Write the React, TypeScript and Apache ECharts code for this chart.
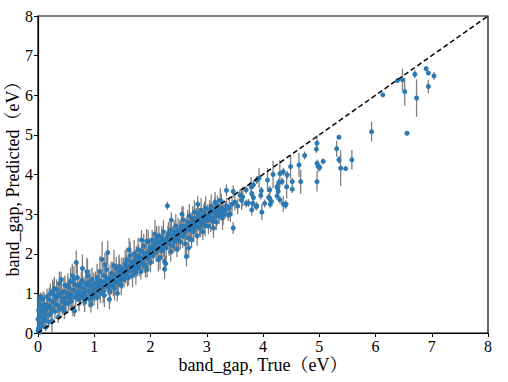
import React, { useEffect, useRef } from "react";
import * as echarts from "echarts";

const xTicks = [0, 1, 2, 3, 4, 5, 6, 7, 8];
const yTicks = [0, 1, 2, 3, 4, 5, 6, 7, 8];
const xName = "band_gap, True（eV）";
const yName = "band_gap, Predicted（eV）";
const diagonal = [[0, 0], [8, 8]];

// true band gap (eV)
const bandGapTrue = [
  0.00, 0.01, 0.02, 0.00, 0.03, 0.01, 0.04, 0.02, 0.05, 0.06, 0.08, 0.07, 0.09, 0.10, 0.05, 0.03, 0.12, 0.11, 0.14, 0.15,
  0.18, 0.20, 0.22, 0.24, 0.25, 0.27, 0.28, 0.30, 0.32, 0.33, 0.35, 0.36, 0.38, 0.40, 0.41, 0.43, 0.44, 0.46, 0.47, 0.48,
  0.50, 0.21, 0.29, 0.37, 0.45, 0.16, 0.19,
  0.52, 0.54, 0.55, 0.57, 0.58, 0.60, 0.62, 0.63, 0.65, 0.66, 0.68, 0.69, 0.70, 0.72, 0.73, 0.75, 0.76, 0.78, 0.79, 0.80,
  0.82, 0.83, 0.85, 0.86, 0.88, 0.90, 0.91, 0.93, 0.95, 0.96, 0.98, 1.00, 0.61, 0.71, 0.87, 0.94,
  1.02, 1.03, 1.05, 1.06, 1.08, 1.10, 1.11, 1.13, 1.14, 1.15, 1.17, 1.18, 1.20, 1.22, 1.24, 1.25, 1.26, 1.28, 1.30, 1.31,
  1.33, 1.35, 1.36, 1.38, 1.40, 1.41, 1.43, 1.45, 1.46, 1.48, 1.50, 1.19, 1.27, 1.39, 1.09,
  1.52, 1.53, 1.55, 1.56, 1.58, 1.60, 1.61, 1.63, 1.64, 1.66, 1.68, 1.69, 1.71, 1.72, 1.74, 1.75, 1.77, 1.78, 1.80, 1.82,
  1.83, 1.85, 1.86, 1.88, 1.90, 1.91, 1.93, 1.95, 1.96, 1.98, 2.00, 1.62, 1.84, 1.94,
  2.02, 2.03, 2.05, 2.07, 2.08, 2.10, 2.12, 2.13, 2.15, 2.17, 2.18, 2.20, 2.22, 2.23, 2.25, 2.26, 2.28, 2.30, 2.31, 2.33,
  2.35, 2.36, 2.38, 2.40, 2.42, 2.43, 2.45, 2.47, 2.48, 2.50, 2.14, 2.27, 2.37, 2.25,
  2.52, 2.53, 2.55, 2.57, 2.58, 2.60, 2.62, 2.63, 2.64, 2.66, 2.67, 2.69, 2.70, 2.72, 2.73, 2.75, 2.77, 2.78, 2.80, 2.82,
  2.83, 2.85, 2.87, 2.88, 2.90, 2.92, 2.93, 2.95, 2.97, 2.98, 3.00, 2.56, 2.68, 2.84,
  3.02, 3.03, 3.05, 3.07, 3.08, 3.10, 3.12, 3.13, 3.15, 3.17, 3.18, 3.20, 3.22, 3.24, 3.25, 3.26, 3.28, 3.30, 3.23, 3.35,
  3.35, 3.38, 3.40, 3.42, 3.47, 3.47, 3.45, 3.50, 3.55, 3.62,
  3.59, 3.64, 3.70, 3.70, 3.74, 3.79, 3.80, 3.80, 3.82, 3.83, 3.83, 3.88, 3.89, 3.89, 3.93, 3.96, 3.97, 3.98, 4.03, 4.08,
  4.10, 4.13, 4.12, 4.12, 4.15, 4.18, 4.25, 4.25, 4.26, 4.27, 4.28, 4.30, 4.30, 4.34, 4.36, 4.36, 4.40, 4.41, 4.42, 4.43,
  4.49, 4.52, 4.52, 4.64, 4.67, 4.74, 4.95, 4.96, 4.96, 4.98, 4.96, 5.01, 5.07, 5.31, 5.35, 5.35, 5.38, 5.47, 5.58, 5.93,
  6.13, 6.39, 6.48, 6.52, 6.56, 6.70, 6.73, 6.90, 6.94, 6.94, 7.04,
  0.04, 0.09, 0.13, 0.17, 0.23, 0.26, 0.31, 0.34, 0.39, 0.42, 0.49, 0.53, 0.56, 0.59, 0.64, 0.67, 0.74, 0.77, 0.81, 0.84,
  0.89, 0.92, 0.97, 0.99,
  1.04, 1.07, 1.12, 1.16, 1.21, 1.23, 1.29, 1.32, 1.34, 1.37, 1.42, 1.44, 1.47, 1.49, 1.54, 1.57, 1.59, 1.65, 1.67, 1.70,
  1.73, 1.76, 1.79, 1.81, 1.87, 1.89, 1.92, 1.97, 1.99,
  2.04, 2.09, 2.11, 2.16, 2.19, 2.21, 2.24, 2.29, 2.32, 2.34, 2.39, 2.41, 2.44, 2.46, 2.49, 2.54, 2.59, 2.61, 2.65, 2.71,
  2.74, 2.76, 2.79, 2.81, 2.86, 2.89, 2.91, 2.94, 2.96, 2.99,
  3.04, 3.09, 3.11, 3.14, 3.16, 3.19, 3.21, 3.27, 3.29, 3.33,
];

// predicted band gap (eV)
const bandGapPred = [
  0.05, 0.12, 0.25, 0.35, 0.45, 0.58, 0.70, 0.82, 0.92, 0.20, 0.38, 0.55, 0.65, 0.30, 0.15, 0.02, 0.48, 0.72, 0.15, 0.60,
  0.45, 0.85, 1.00, 0.62, 0.30, 0.78, 0.95, 0.55, 0.88, 1.10, 0.70, 0.40, 1.25, 0.92, 1.35, 0.80, 0.65, 1.05, 0.55, 1.20,
  0.90, 0.68, 1.12, 0.98, 0.85, 0.92, 0.28,
  1.00, 0.75, 1.15, 0.88, 1.30, 0.95, 0.62, 1.08, 0.56, 1.22, 1.78, 0.98, 1.40, 1.05, 0.85, 1.18, 0.95, 1.32, 1.63, 1.00,
  1.12, 0.78, 1.25, 0.92, 1.45, 1.05, 0.85, 1.18, 0.98, 1.35, 1.10, 0.95, 1.45, 1.20, 1.55, 0.72,
  1.25, 1.05, 1.40, 0.90, 1.18, 1.55, 1.00, 1.30, 1.86, 1.10, 1.45, 0.95, 1.28, 1.60, 2.03, 1.15, 1.38, 1.05, 1.50, 1.22,
  1.35, 1.70, 1.12, 1.30, 1.45, 1.00, 1.25, 1.55, 1.35, 1.20, 1.42, 1.72, 0.85, 1.62, 1.32,
  1.60, 1.35, 1.75, 1.50, 1.85, 1.55, 1.40, 1.70, 1.95, 1.62, 1.45, 1.80, 2.00, 1.65, 1.52, 1.90, 1.75, 2.10, 1.68, 1.85,
  1.55, 2.05, 1.78, 2.20, 1.95, 1.70, 2.32, 1.88, 2.30, 2.05, 1.78, 2.10, 2.35, 1.60,
  2.10, 2.35, 1.95, 2.25, 2.50, 2.05, 2.30, 2.15, 2.45, 1.90, 2.20, 2.40, 2.08, 2.55, 1.61, 2.30, 2.15, 3.21, 2.45, 2.25,
  2.60, 2.05, 2.38, 2.20, 2.55, 2.30, 2.70, 2.12, 2.45, 2.35, 1.85, 1.75, 2.85, 1.80,
  2.55, 2.30, 2.70, 2.45, 2.85, 2.50, 2.25, 2.65, 1.93, 2.80, 2.40, 2.95, 2.60, 2.75, 2.35, 2.90, 2.55, 3.05, 2.70, 2.85,
  2.45, 3.00, 2.65, 2.80, 3.10, 2.75, 2.55, 2.95, 2.70, 3.15, 2.85, 3.00, 2.15, 3.25,
  2.95, 2.70, 3.10, 2.85, 3.20, 2.90, 2.65, 3.05, 3.30, 2.80, 3.00, 3.15, 2.95, 3.35, 3.10, 3.32, 2.90, 3.05, 3.06, 3.60,
  3.21, 2.98, 3.15, 3.00, 2.65, 3.57, 3.25, 3.30, 3.20, 3.35,
  3.48, 3.44, 3.61, 3.27, 3.28, 3.69, 3.52, 3.11, 3.27, 3.74, 3.42, 3.19, 3.86, 3.21, 3.91, 3.47, 3.59, 3.05, 3.27, 3.86,
  3.42, 3.25, 3.61, 3.40, 3.32, 4.00, 3.69, 3.46, 3.65, 3.57, 3.80, 4.02, 3.36, 3.82, 4.07, 3.26, 3.23, 3.25, 3.69, 3.99,
  4.20, 3.82, 3.63, 4.24, 3.82, 4.48, 4.64, 4.79, 4.28, 4.20, 3.82, 4.18, 4.33, 4.65, 4.94, 4.37, 4.16, 4.15, 4.37, 5.08,
  6.01, 6.37, 6.39, 6.09, 5.04, 6.53, 5.93, 6.67, 6.56, 6.22, 6.49,
  0.50, 0.85, 0.35, 0.70, 0.50, 1.05, 0.72, 0.95, 0.60, 1.02, 0.75, 1.20, 0.98, 0.80, 1.35, 0.90, 1.00, 1.25, 0.88, 1.05,
  1.20, 1.30, 0.88, 1.22,
  1.15, 1.30, 1.20, 1.05, 1.40, 1.22, 1.30, 1.50, 1.18, 1.42, 1.30, 1.68, 1.48, 1.60, 1.55, 1.65, 1.42, 1.78, 1.58, 1.72,
  1.85, 1.62, 1.95, 1.78, 1.90, 1.72, 2.00, 1.95, 2.15,
  2.20, 2.15, 2.40, 2.28, 2.10, 2.32, 2.18, 2.38, 2.50, 2.32, 2.48, 2.40, 2.52, 2.38, 2.60, 2.62, 2.68, 2.58, 2.72, 2.68,
  2.80, 2.65, 2.88, 2.78, 2.90, 2.72, 2.95, 2.82, 3.02, 2.90,
  2.98, 3.05, 2.82, 3.12, 2.95, 3.22, 3.05, 3.15, 2.98, 3.10,
];

// prediction uncertainty (eV, half length of the bar)
const predStd = [
  0.05, 0.10, 0.15, 0.20, 0.20, 0.25, 0.20, 0.15, 0.10, 0.15, 0.25, 0.30, 0.20, 0.20, 0.10, 0.05, 0.25, 0.30, 0.10, 0.30,
  0.20, 0.30, 0.25, 0.25, 0.30, 0.20, 0.35, 0.20, 0.30, 0.25, 0.20, 0.15, 0.30, 0.25, 0.20, 0.30, 0.20, 0.35, 0.20, 0.25,
  0.30, 0.20, 0.30, 0.20, 0.20, 0.20, 0.15,
  0.30, 0.20, 0.25, 0.30, 0.35, 0.20, 0.20, 0.30, 0.15, 0.25, 0.30, 0.20, 0.35, 0.25, 0.30, 0.20, 0.25, 0.30, 0.35, 0.20,
  0.30, 0.25, 0.30, 0.20, 0.40, 0.25, 0.20, 0.30, 0.25, 0.30, 0.20, 0.25, 0.30, 0.20, 0.35, 0.20,
  0.30, 0.25, 0.35, 0.30, 0.20, 0.40, 0.25, 0.30, 0.45, 0.20, 0.35, 0.30, 0.25, 0.40, 0.30, 0.20, 0.35, 0.30, 0.30, 0.25,
  0.20, 0.40, 0.30, 0.25, 0.30, 0.20, 0.30, 0.35, 0.20, 0.25, 0.30, 0.30, 0.25, 0.30, 0.25,
  0.30, 0.20, 0.35, 0.25, 0.30, 0.25, 0.20, 0.30, 0.35, 0.25, 0.30, 0.20, 0.35, 0.25, 0.30, 0.30, 0.20, 0.30, 0.25, 0.30,
  0.20, 0.35, 0.25, 0.30, 0.20, 0.30, 0.30, 0.25, 0.30, 0.20, 0.25, 0.30, 0.25, 0.20,
  0.30, 0.25, 0.20, 0.30, 0.35, 0.25, 0.20, 0.30, 0.25, 0.30, 0.20, 0.30, 0.25, 0.30, 0.25, 0.20, 0.30, 0.10, 0.25, 0.30,
  0.20, 0.25, 0.30, 0.20, 0.30, 0.25, 0.30, 0.20, 0.25, 0.30, 0.30, 0.20, 0.20, 0.25,
  0.30, 0.20, 0.25, 0.30, 0.35, 0.20, 0.30, 0.25, 0.25, 0.30, 0.20, 0.30, 0.25, 0.30, 0.20, 0.30, 0.25, 0.30, 0.20, 0.30,
  0.25, 0.30, 0.20, 0.25, 0.30, 0.25, 0.20, 0.30, 0.25, 0.30, 0.20, 0.20, 0.25, 0.20,
  0.30, 0.20, 0.25, 0.30, 0.30, 0.20, 0.25, 0.30, 0.25, 0.20, 0.30, 0.25, 0.20, 0.30, 0.25, 0.20, 0.30, 0.20, 0.15, 0.15,
  0.20, 0.15, 0.25, 0.20, 0.15, 0.15, 0.20, 0.20, 0.20, 0.25,
  0.15, 0.25, 0.10, 0.10, 0.10, 0.25, 0.10, 0.15, 0.10, 0.10, 0.10, 0.10, 0.10, 0.10, 0.25, 0.10, 0.10, 0.20, 0.10, 0.30,
  0.10, 0.10, 0.10, 0.20, 0.10, 0.35, 0.10, 0.10, 0.10, 0.20, 0.10, 0.35, 0.10, 0.10, 0.10, 0.20, 0.10, 0.10, 0.30, 0.10,
  0.30, 0.10, 0.10, 0.30, 0.30, 0.10, 0.10, 0.20, 0.10, 0.15, 0.25, 0.10, 0.08, 0.20, 0.05, 0.10, 0.45, 0.05, 0.25, 0.25,
  0.05, 0.05, 0.28, 0.35, 0.05, 0.10, 0.47, 0.07, 0.05, 0.17, 0.10,
  0.30, 0.20, 0.20, 0.30, 0.20, 0.30, 0.25, 0.30, 0.20, 0.30, 0.25, 0.30, 0.20, 0.25, 0.35, 0.25, 0.30, 0.30, 0.20, 0.30,
  0.25, 0.30, 0.20, 0.30,
  0.25, 0.30, 0.20, 0.30, 0.30, 0.20, 0.25, 0.30, 0.25, 0.30, 0.20, 0.30, 0.25, 0.30, 0.20, 0.30, 0.25, 0.30, 0.20, 0.30,
  0.25, 0.20, 0.30, 0.25, 0.30, 0.20, 0.25, 0.30, 0.25,
  0.30, 0.20, 0.30, 0.25, 0.20, 0.30, 0.25, 0.20, 0.30, 0.25, 0.20, 0.30, 0.25, 0.20, 0.30, 0.25, 0.30, 0.20, 0.25, 0.30,
  0.20, 0.25, 0.30, 0.20, 0.25, 0.30, 0.20, 0.25, 0.30, 0.25,
  0.20, 0.25, 0.20, 0.30, 0.20, 0.25, 0.20, 0.20, 0.25, 0.20,
];

const FONT = "'Liberation Serif', 'Noto Serif CJK SC', 'Noto Sans CJK SC', serif";

export default function App() {
  const ref = useRef<HTMLDivElement>(null);
  useEffect(() => {
    if (!ref.current) return;
    const chart = echarts.init(ref.current, undefined, { renderer: "svg" });
    const n = Math.min(bandGapTrue.length, bandGapPred.length, predStd.length);
    const rows: number[][] = [];
    for (let i = 0; i < n; i++) rows.push([bandGapTrue[i], bandGapPred[i], predStd[i]]);
    const axisCommon = {
      type: "value" as const,
      min: 0,
      max: 8,
      interval: 1,
      splitLine: { show: false },
      axisLine: { show: true, onZero: false, lineStyle: { color: "#000", width: 1.2 } },
      axisTick: { show: true, inside: false, length: 4, lineStyle: { color: "#000", width: 1 } },
      nameLocation: "middle" as const,
      nameMoveOverlap: false,
      nameTextStyle: { fontFamily: FONT, fontSize: 18, color: "#000" },
    };
    chart.setOption({
      animation: false,
      backgroundColor: "#fff",
      grid: {
        left: 38,
        right: 20,
        top: 16,
        bottom: 49,
        show: true,
        borderColor: "#000",
        borderWidth: 1.2,
        containLabel: false,
        outerBoundsMode: "none",
      },
      xAxis: {
        ...axisCommon,
        name: xName,
        nameGap: 23,
        axisLabel: {
          fontFamily: FONT,
          fontSize: 16,
          color: "#000",
          margin: 5,
          formatter: (v: number) => (xTicks.includes(v) ? String(v) : ""),
        },
      },
      yAxis: {
        ...axisCommon,
        name: yName,
        nameGap: 16,
        axisLabel: {
          fontFamily: FONT,
          fontSize: 16,
          color: "#000",
          margin: 5,
          formatter: (v: number) => (yTicks.includes(v) ? String(v) : ""),
        },
      },
      series: [
        {
          type: "custom",
          clip: true,
          z: 1,
          data: rows,
          encode: { x: 0, y: 1 },
          renderItem: (params: any, api: any) => {
            const x = api.value(0);
            const y = api.value(1);
            const e = api.value(2);
            const p1 = api.coord([x, y - e]);
            const p2 = api.coord([x, y + e]);
            return {
              type: "line",
              shape: { x1: p1[0], y1: p1[1], x2: p2[0], y2: p2[1] },
              style: { stroke: "#7f7f7f", lineWidth: 1.3 },
            };
          },
        },
        {
          type: "scatter",
          z: 2,
          symbol: "circle",
          symbolSize: 5,
          data: rows.map((r) => [r[0], r[1]]),
          itemStyle: { color: "#2b79b5", opacity: 1 },
        },
        {
          type: "line",
          z: 3,
          data: diagonal,
          symbol: "none",
          lineStyle: { color: "#000", width: 1.5, type: [5, 3] },
        },
      ],
    });
    return () => chart.dispose();
  }, []);
  return (
    <div
      ref={ref}
      style={{ position: "absolute", left: 0, top: 0, width: 508, height: 382, background: "#fff" }}
    />
  );
}
